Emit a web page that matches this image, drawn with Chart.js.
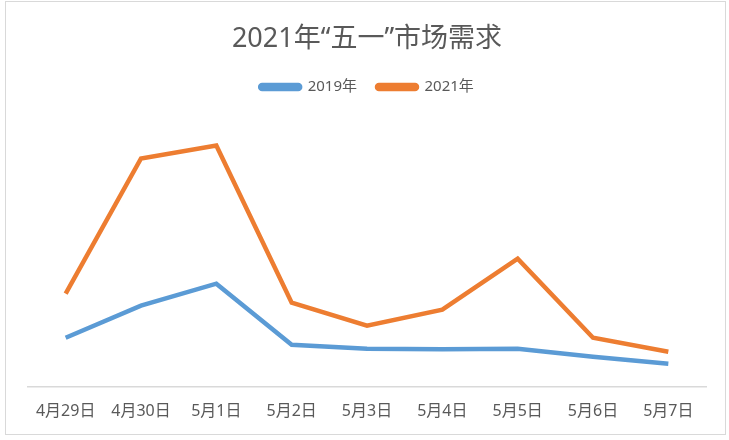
<!DOCTYPE html>
<html>
<head>
<meta charset="utf-8">
<script src="https://cdn.jsdelivr.net/npm/chart.js@4"></script>
<style>
  body { margin: 0; background: #fff; }
  #wrap {
    position: absolute;
    left: 5px;
    top: 1px;
    width: 719px;
    height: 432px;
    border: 1px solid #d9d9d9;
  }
</style>
</head>
<body>
<div id="wrap"><canvas id="chart" width="719" height="432"></canvas></div>
<script>
const categories = ["4月29日", "4月30日", "5月1日", "5月2日", "5月3日", "5月4日", "5月5日", "5月6日", "5月7日"];
const series2019 = [49, 81, 103, 42, 38, 37.5, 38, 30, 23];
const series2021 = [93, 228, 241, 84, 61, 77, 128, 49, 35];

const FONT = "'Noto Sans', 'Noto Sans CJK SC', sans-serif";

new Chart(document.getElementById("chart"), {
  type: "line",
  data: {
    labels: categories,
    datasets: [
      {
        label: "2019年",
        data: series2019,
        borderColor: "#5b9bd5",
        backgroundColor: "#5b9bd5",
        borderWidth: 4.5,
        pointRadius: 0,
        tension: 0,
      },
      {
        label: "2021年",
        data: series2021,
        borderColor: "#ed7d31",
        backgroundColor: "#ed7d31",
        borderWidth: 4.5,
        pointRadius: 0,
        tension: 0,
      },
    ],
  },
  options: {
    responsive: false,
    animation: false,
    layout: { padding: { left: 22, right: 19, top: 21, bottom: 6 } },
    plugins: {
      title: {
        display: true,
        text: "2021年“五一”市场需求",
        color: "#595959",
        font: { family: FONT, size: 27, weight: "normal" },
        padding: { top: 0, bottom: 4 },
      },
      legend: {
        display: true,
        labels: {
          color: "#595959",
          font: { family: FONT, size: 15 },
          boxWidth: 40,
          boxHeight: 4,
          useBorderRadius: true,
          borderRadius: 2,
          padding: 20,
        },
      },
      tooltip: { enabled: false },
    },
    scales: {
      x: {
        offset: true,
        grid: { display: false },
        border: { display: true, color: "#d9d9d9", width: 1.5 },
        ticks: {
          color: "#595959",
          font: { family: FONT, size: 16 },
          padding: 7,
          maxRotation: 0,
        },
      },
      y: {
        display: false,
        min: 0,
        max: 282,
      },
    },
  },
});
</script>
</body>
</html>
